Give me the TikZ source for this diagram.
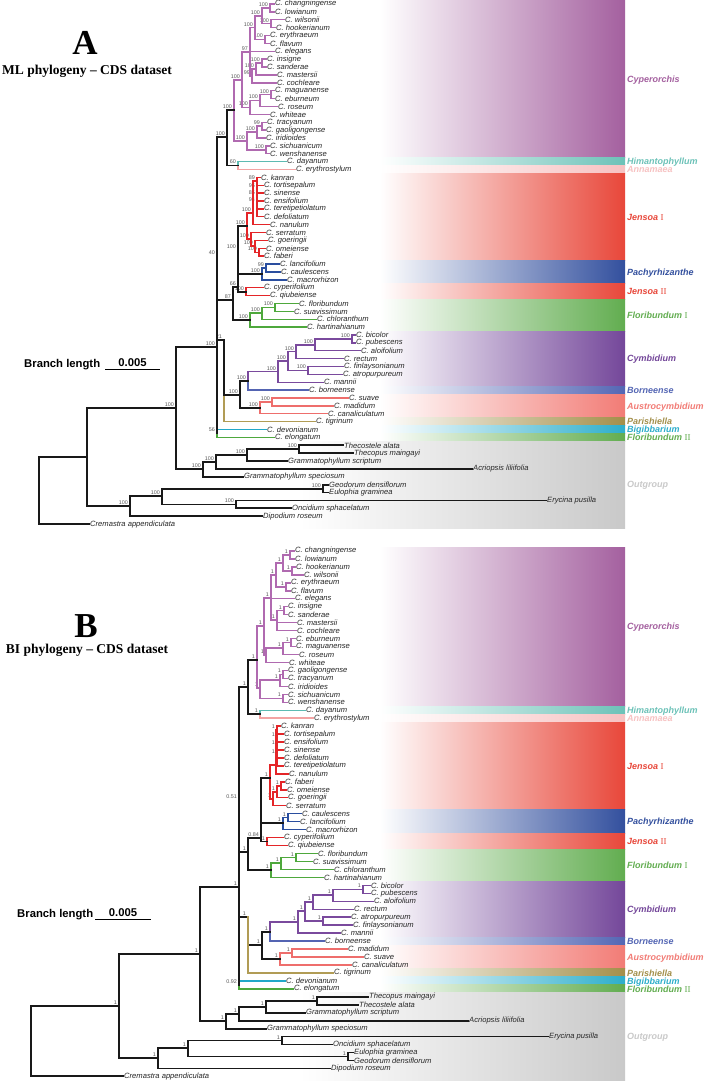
\documentclass[tikz,border=0pt]{standalone}
\usepackage{fontspec}
\setmainfont{Liberation Serif}
\setsansfont{Liberation Sans}
\usepackage{xcolor}
\usepackage{tikz}

% clade colours
\definecolor{cypc}{HTML}{A4609F}
\definecolor{himc}{HTML}{6CC2B8}
\definecolor{annc}{HTML}{F7C2C2}
\definecolor{jenc}{HTML}{E8473A}
\definecolor{pacc}{HTML}{33509E}
\definecolor{flc}{HTML}{62AD50}
\definecolor{cymc}{HTML}{74479A}
\definecolor{borc}{HTML}{5466B4}
\definecolor{ausc}{HTML}{F27C76}
\definecolor{parc}{HTML}{A38F4A}
\definecolor{bigc}{HTML}{2DAECB}
\definecolor{outc}{HTML}{C9C9C9}
% branch colours
\definecolor{cypb}{HTML}{B06AB0}
\definecolor{jenb}{HTML}{E42528}
\definecolor{pacb}{HTML}{2A4E9F}
\definecolor{flb}{HTML}{4EA83C}
\definecolor{cymb}{HTML}{7A4A9D}
\definecolor{borb}{HTML}{5464B2}
\definecolor{ausb}{HTML}{EE6E6C}
\definecolor{parb}{HTML}{B19C55}
\definecolor{bigb}{HTML}{22A8C8}
\definecolor{himb}{HTML}{5DBBB2}
\definecolor{annb}{HTML}{F3A3A3}

\newcommand{\romn}[1]{{\rmfamily\upshape\mdseries #1}}

\tikzstyle{leaf} = [anchor=west, inner sep=1pt, text=black!85,
    font=\sffamily\itshape\fontsize{7.6}{8}\selectfont]
\tikzstyle{bs} = [anchor=south east, inner sep=0.4pt, xshift=-1.5pt, yshift=0.9pt,
    text=black!65, font=\sffamily\fontsize{5.4}{6}\selectfont]
\tikzstyle{clade} = [anchor=base west, inner sep=0pt, text depth=0pt,
    font=\sffamily\bfseries\itshape\fontsize{9}{9}\selectfont]
\tikzstyle{twig} = [draw, line width=1.4pt, line cap=rect]
\tikzstyle{trunk} = [draw, line width=1.8pt, line cap=rect, black!90]
\tikzstyle{panelletter} = [font=\bfseries\fontsize{35}{36}\selectfont]
\tikzstyle{subtitle} = [font=\bfseries\fontsize{13.5}{15}\selectfont]
\tikzstyle{barlabel} = [anchor=base west, inner sep=0pt,
    font=\sffamily\bfseries\fontsize{11.3}{12}\selectfont]

\begin{document}
\begin{tikzpicture}[x=1pt, y=-1pt]
    \useasboundingbox (0,0) rectangle (707,1082);
    \fill[white] (0,0) rectangle (707,1082);

    % Clade bands
    \foreach \xa/\ya/\yb/\col/\nm/\lab in {
        380/0/157.7/cypc/kA1/Cyperorchis, 380/157.7/165.5/himc/kA2/Himantophyllum,
        380/165.5/173.4/annc/kA3/Annamaea, 380/173.4/260.1/jenc/kA4/Jensoa \romn{I},
        380/260.1/283.8/pacc/kA5/Pachyrhizanthe, 380/283.8/299.5/jenc/kA6/Jensoa \romn{II},
        380/299.5/331.1/flc/kA7/Floribundum \romn{I}, 380/331.1/386.2/cymc/kA8/Cymbidium,
        380/386.2/394.1/borc/kA9/Borneense, 380/394.1/417.7/ausc/kA10/Austrocymbidium,
        380/417.7/425.6/parc/kA11/Parishiella, 380/425.6/433.5/bigc/kA12/Bigibbarium,
        380/433.5/441.3/flc/kA13/Floribundum \romn{II}, 300/441.3/528/outc/kA14/Outgroup,
        380/547/706.2/cypc/kB1/Cyperorchis, 380/706.2/714.2/himc/kB2/Himantophyllum,
        380/714.2/722.1/annc/kB3/Annamaea, 380/722.1/809.7/jenc/kB4/Jensoa \romn{I},
        380/809.7/833.6/pacc/kB5/Pachyrhizanthe, 380/833.6/849.5/jenc/kB6/Jensoa \romn{II},
        380/849.5/881.3/flc/kB7/Floribundum \romn{I}, 380/881.3/937.1/cymc/kB8/Cymbidium,
        380/937.1/945/borc/kB9/Borneense, 380/945/968.9/ausc/kB10/Austrocymbidium,
        380/968.9/976.9/parc/kB11/Parishiella, 380/976.9/984.8/bigc/kB12/Bigibbarium,
        380/984.8/992.8/flc/kB13/Floribundum \romn{II}, 300/992.8/1080/outc/kB14/Outgroup}{
        \fill[left color=white, right color=\col] (\xa,\ya) rectangle (625,\yb);
        \node[clade, text=\col] (\nm) at (627,{(\ya+\yb)/2+3.3}) {\lab};
    }

    % Titles and scale bars
    \node[panelletter] (pA) at (85,43) {A};
    \node[subtitle] (tA) at (87,71) {ML phylogeny \textendash{} CDS dataset};
    \node[barlabel] (blA) at (24,367) {Branch length};
    \node[barlabel, anchor=base] (bvA) at (132.5,366) {0.005};
    \coordinate (sbA1) at (105,369.5);
    \coordinate (sbA2) at (160,369.5);
    \draw[line width=0.8pt] (sbA1) -- (sbA2);

    \node[panelletter] (pB) at (86,626) {B};
    \node[subtitle] (tB) at (87,650) {BI phylogeny \textendash{} CDS dataset};
    \node[barlabel] (blB) at (17,917) {Branch length};
    \node[barlabel, anchor=base] (bvB) at (123,916) {0.005};
    \coordinate (sbB1) at (95,919);
    \coordinate (sbB2) at (151,919);
    \draw[line width=0.8pt] (sbB1) -- (sbB2);

    % Place nodes: ML tips
    \foreach \i/\x/\tx in {1/274/C. changningense, 2/274/C. lowianum, 3/284/C. wilsonii,
        4/275/C. hookerianum, 5/269/C. erythraeum, 6/269/C. flavum, 7/274/C. elegans,
        8/266/C. insigne, 9/266/C. sanderae, 10/276/C. mastersii, 11/276/C. cochleare,
        12/274/C. maguanense, 13/274/C. eburneum, 14/277/C. roseum, 15/269/C. whiteae,
        16/266/C. tracyanum, 17/265/C. gaoligongense, 18/265/C. iridioides,
        19/269/C. sichuanicum, 20/269/C. wenshanense, 21/286/C. dayanum,
        22/295/C. erythrostylum, 23/260/C. kanran, 24/263/C. tortisepalum,
        25/263/C. sinense, 26/263/C. ensifolium, 27/263/C. teretipetiolatum,
        28/263/C. defoliatum, 29/269/C. nanulum, 30/265/C. serratum, 31/267/C. goeringii,
        32/265/C. omeiense, 33/263/C. faberi, 34/279/C. lancifolium, 35/280/C. caulescens,
        36/286/C. macrorhizon, 37/263/C. cyperifolium, 38/269/C. qiubeiense,
        39/298/C. floribundum, 40/293/C. suavissimum, 41/316/C. chloranthum,
        42/306/C. hartinahianum, 43/355/C. bicolor, 44/355/C. pubescens,
        45/360/C. aloifolium, 46/343/C. rectum, 47/343/C. finlaysonianum,
        48/342/C. atropurpureum, 49/323/C. mannii, 50/308/C. borneense, 51/348/C. suave,
        52/333/C. madidum, 53/327/C. canaliculatum, 54/315/C. tigrinum,
        55/266/C. devonianum, 56/274/C. elongatum, 57/343/Thecostele alata,
        58/353/Thecopus maingayi, 59/287/Grammatophyllum scriptum,
        60/472/Acriopsis liliifolia, 61/243/Grammatophyllum speciosum,
        62/328/Geodorum densiflorum, 63/328/Eulophia graminea, 64/546/Erycina pusilla,
        65/291/Oncidium sphacelatum, 66/262/Dipodium roseum, 67/89/Cremastra appendiculata}
        \node[leaf] (ml\i) at (\x,{4+(\i-1)*7.88}) {\tx};

    % Place nodes: BI tips
    \foreach \i/\x/\tx in {1/294/C. changningense, 2/294/C. lowianum, 3/295/C. hookerianum,
        4/303/C. wilsonii, 5/290/C. erythraeum, 6/290/C. flavum, 7/294/C. elegans,
        8/287/C. insigne, 9/287/C. sanderae, 10/296/C. mastersii, 11/296/C. cochleare,
        12/295/C. eburneum, 13/295/C. maguanense, 14/298/C. roseum, 15/288/C. whiteae,
        16/287/C. gaoligongense, 17/287/C. tracyanum, 18/287/C. iridioides,
        19/287/C. sichuanicum, 20/287/C. wenshanense, 21/305/C. dayanum,
        22/313/C. erythrostylum, 23/280/C. kanran, 24/283/C. tortisepalum,
        25/283/C. ensifolium, 26/283/C. sinense, 27/283/C. defoliatum,
        28/283/C. teretipetiolatum, 29/288/C. nanulum, 30/284/C. faberi,
        31/286/C. omeiense, 32/287/C. goeringii, 33/285/C. serratum, 34/301/C. caulescens,
        35/299/C. lancifolium, 36/305/C. macrorhizon, 37/283/C. cyperifolium,
        38/287/C. qiubeiense, 39/317/C. floribundum, 40/312/C. suavissimum,
        41/333/C. chloranthum, 42/323/C. hartinahianum, 43/370/C. bicolor,
        44/370/C. pubescens, 45/373/C. aloifolium, 46/353/C. rectum,
        47/350/C. atropurpureum, 48/352/C. finlaysonianum, 49/340/C. mannii,
        50/324/C. borneense, 51/347/C. madidum, 52/363/C. suave, 53/351/C. canaliculatum,
        54/333/C. tigrinum, 55/285/C. devonianum, 56/293/C. elongatum,
        57/368/Thecopus maingayi, 58/358/Thecostele alata, 59/305/Grammatophyllum scriptum,
        60/468/Acriopsis liliifolia, 61/266/Grammatophyllum speciosum,
        62/548/Erycina pusilla, 63/332/Oncidium sphacelatum, 64/353/Eulophia graminea,
        65/353/Geodorum densiflorum, 66/330/Dipodium roseum, 67/123/Cremastra appendiculata}
        \node[leaf] (bi\i) at (\x,{551+(\i-1)*7.96}) {\tx};

    % Internal nodes with support values
    \foreach \n/\x/\y/\lb in {c1/270/7.9/100, c2/271/23.7/100, c3/262/15.8/100,
        c4/265/39.5/100, c5/255/27.6/100, c6/262/63.1/100, c7/256/69/100, c8/252/75.9/99,
        c9/250/52/97, c10/271/94.6/100, c11/260/100.5/100, c12/250/107.4/100,
        c13/242/80/100, c14/262/126.1/99, c15/257/132/100, c16/266/149.8/100,
        c17/247/141/100, c18/234/110/100, h1/238/165.5/60, g1/227/137/100,
        j1a/257/212.8/{}, j1b/257/203/94, j1c/257/196/85, j1d/257/189/96, j1e/257/181/89,
        j2/253/213/100, j3/259/252.2/100, j4/255/246/100, j5/251/239/100, ji/247/226/100,
        p1/266/268/99, p2/262/274/100, j6/246/291.6/100, r1/238/250/100, r/238/287/66,
        f1/275/307.4/100, f2/262/313/100, f3/250/320/100, t/233/300/87, m40/217/256/40,
        y1/352/338.9/100, y2/315/344.8/100, y3/296/351.7/100, y4/308/370.4/100,
        y5/288/361/100, y6/278/371.6/100, y7/248/381/100, s1/272/402/100, s2/260/408/100,
        z/240/395/100, q/224/340/21, m56/217/433.5/56, n3/217/347/100,
        o1/299/449.2/100, o2/247/455/100, o3/216/462/100, o4/203/469/100, n2/176/408/100,
        o5/323/488.6/100, o6/236/504.4/100, o7/162/496/100, o8/130/506/100,
        n1/87/457/{}, ra/39/490/{},
        bc1/290/555/1, bc2/292/570.9/1, bc3/283/563/1, bc4/286/586.8/1, bc5/276/575/1,
        bc6/284/610.7/1, bc7/277/620/1, bc8/271/598/1, bc9/291/642.5/1, bc10/283/648/1,
        bc11/266/655/1, bc12/264/626/1, bc13/283/674.4/1, bc14/280/680/1,
        bc15/283/698.3/1, bc16/260/688/1, bc17/257/660/1, bh/260/714.2/1, bg/248/687/1,
        bj1a/277/762/{}, bj1b/277/755/1, bj1c/277/746/1, bj1d/277/738/1, bj1e/277/730/1,
        bj2/276/765/{}, bj3/281/785.8/1, bj4/277/792/1, bj5/273/799/1, bji/270/778/1,
        bj6/267/841.5/1, bp1/288/817.7/1, bp2/283/823/1, br/261/838/0.84,
        bf1/296/857.5/1, bf2/281/863/1, bf3/271/870/1, bt/248/852/1, bm/239/800/0.51,
        by1/363/889.3/1, by2/333/895/1, by3/313/902/1, by4/323/921.1/1, by5/305/911/1,
        by6/298/922/1, by7/270/932/1, ba1/292/953/1, ba2/280/959/1, bz/262/945/1,
        bq/248/917/1, bd/239/984.8/0.92, bcr/239/887/1,
        bo1/317/1000.7/1, bo2/266/1007/1, bo3/239/1014/1, bo4/226/1021/1, bn2/200/954/1,
        bo5/282/1040.5/1, bo6/348/1056.5/1, bo7/188/1048/1, bo8/158/1058/1,
        bn1/119/1006/1, rb/31/1041/{}}{
        \coordinate (\n) at (\x,\y);
        \node[bs] (l\n) at (\n) {\lb};
    }

    % Draw edges: ML tree
    \foreach \pa/\ch in {c1/ml1, c1/ml2, c2/ml3, c2/ml4, c3/c1, c3/c2, c4/ml5, c4/ml6,
        c5/c3, c5/c4, c6/ml8, c6/ml9, c7/c6, c7/ml10, c8/c7, c8/ml11, c9/c5, c9/ml7, c9/c8,
        c10/ml12, c10/ml13, c11/c10, c11/ml14, c12/c11, c12/ml15, c13/c9, c13/c12,
        c14/ml16, c14/ml17, c15/c14, c15/ml18, c16/ml19, c16/ml20, c17/c15, c17/c16,
        c18/c13, c18/c17}
        \draw[twig, cypb] (\pa) |- (\ch);
    \draw[twig, himb] (h1) |- (ml21);
    \draw[twig, annb] (h1) |- (ml22);
    \foreach \pa/\ch in {j1a/ml27, j1a/ml28, j1b/ml26, j1b/j1a, j1c/ml25, j1c/j1b,
        j1d/ml24, j1d/j1c, j1e/ml23, j1e/j1d, j2/j1e, j2/ml29, j3/ml32, j3/ml33,
        j4/ml31, j4/j3, j5/ml30, j5/j4, ji/j2, ji/j5, j6/ml37, j6/ml38}
        \draw[twig, jenb] (\pa) |- (\ch);
    \foreach \pa/\ch in {p1/ml34, p1/ml35, p2/p1, p2/ml36}
        \draw[twig, pacb] (\pa) |- (\ch);
    \foreach \pa/\ch in {f1/ml39, f1/ml40, f2/f1, f2/ml41, f3/f2, f3/ml42}
        \draw[twig, flb] (\pa) |- (\ch);
    \foreach \pa/\ch in {y1/ml43, y1/ml44, y2/y1, y2/ml45, y3/y2, y3/ml46, y4/ml47,
        y4/ml48, y5/y3, y5/y4, y6/y5, y6/ml49, y7/y6}
        \draw[twig, cymb] (\pa) |- (\ch);
    \draw[twig, borb] (y7) |- (ml50);
    \foreach \pa/\ch in {s1/ml51, s1/ml52, s2/s1, s2/ml53}
        \draw[twig, ausb] (\pa) |- (\ch);
    \draw[twig, parb] (q) |- (ml54);
    \draw[twig, bigb] (m56) |- (ml55);
    \draw[twig, flb] (m56) |- (ml56);
    \foreach \pa/\ch in {g1/c18, g1/h1, r1/ji, r1/p2, r/r1, r/j6, t/r, t/f3, m40/g1,
        m40/t, z/y7, z/s2, q/z, n3/m40, n3/q, n3/m56, o1/ml57, o1/ml58, o2/o1, o2/ml59,
        o3/o2, o3/ml60, o4/o3, o4/ml61, n2/n3, n2/o4, o5/ml62, o5/ml63, o6/ml64, o6/ml65,
        o7/o5, o7/o6, o8/o7, o8/ml66, n1/n2, n1/o8, ra/n1, ra/ml67}
        \path[trunk] (\pa) |- (\ch);

    % Draw edges: BI tree
    \foreach \pa/\ch in {bc1/bi1, bc1/bi2, bc2/bi3, bc2/bi4, bc3/bc1, bc3/bc2, bc4/bi5,
        bc4/bi6, bc5/bc3, bc5/bc4, bc6/bi8, bc6/bi9, bc7/bc6, bc7/bi10, bc7/bi11, bc8/bc5,
        bc8/bi7, bc8/bc7, bc9/bi12, bc9/bi13, bc10/bc9, bc10/bi14, bc11/bc10, bc11/bi15,
        bc12/bc8, bc12/bc11, bc13/bi16, bc13/bi17, bc14/bc13, bc14/bi18, bc15/bi19,
        bc15/bi20, bc16/bc14, bc16/bc15, bc17/bc12, bc17/bc16}
        \draw[twig, cypb] (\pa) |- (\ch);
    \draw[twig, himb] (bh) |- (bi21);
    \draw[twig, annb] (bh) |- (bi22);
    \foreach \pa/\ch in {bj1a/bi27, bj1a/bi28, bj1b/bi26, bj1b/bj1a, bj1c/bi25,
        bj1c/bj1b, bj1d/bi24, bj1d/bj1c, bj1e/bi23, bj1e/bj1d, bj2/bj1e, bj2/bi29,
        bj3/bi30, bj3/bi31, bj4/bj3, bj4/bi32, bj5/bj4, bj5/bi33, bji/bj2, bji/bj5,
        bj6/bi37, bj6/bi38}
        \draw[twig, jenb] (\pa) |- (\ch);
    \foreach \pa/\ch in {bp1/bi34, bp1/bi35, bp2/bp1, bp2/bi36}
        \draw[twig, pacb] (\pa) |- (\ch);
    \foreach \pa/\ch in {bf1/bi39, bf1/bi40, bf2/bf1, bf2/bi41, bf3/bf2, bf3/bi42}
        \draw[twig, flb] (\pa) |- (\ch);
    \foreach \pa/\ch in {by1/bi43, by1/bi44, by2/by1, by2/bi45, by3/by2, by3/bi46,
        by4/bi47, by4/bi48, by5/by3, by5/by4, by6/by5, by6/bi49, by7/by6}
        \draw[twig, cymb] (\pa) |- (\ch);
    \draw[twig, borb] (by7) |- (bi50);
    \foreach \pa/\ch in {ba1/bi51, ba1/bi52, ba2/ba1, ba2/bi53}
        \draw[twig, ausb] (\pa) |- (\ch);
    \draw[twig, bigb] (bd) |- (bi55);
    \draw[twig, flb] (bd) |- (bi56);
    \foreach \pa/\ch in {bg/bc17, bg/bh, br/bji, br/bp2, br/bj6, bt/br, bt/bf3, bm/bg,
        bm/bt, bz/by7, bz/ba2, bq/bz, bcr/bm, bcr/bq, bcr/bd, bo1/bi57, bo1/bi58,
        bo2/bo1, bo2/bi59, bo3/bo2, bo3/bi60, bo4/bo3, bo4/bi61, bn2/bcr, bn2/bo4,
        bo5/bi62, bo5/bi63, bo6/bi64, bo6/bi65, bo7/bo5, bo7/bo6, bo8/bo7, bo8/bi66,
        bn1/bn2, bn1/bo8, rb/bn1, rb/bi67}
        \path[trunk] (\pa) |- (\ch);
    \draw[twig, parb] (bq) |- (bi54);
\end{tikzpicture}
\end{document}
